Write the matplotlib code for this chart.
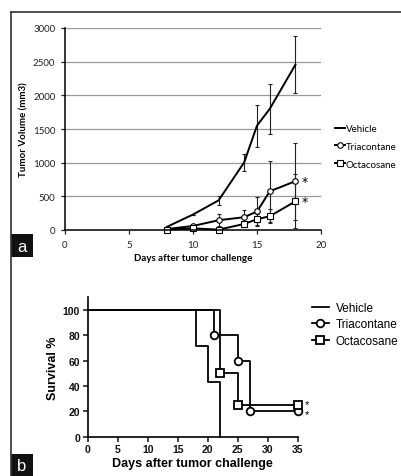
import matplotlib
matplotlib.use('Agg')
from matplotlib import pyplot as plt
from matplotlib.lines import Line2D
from matplotlib.patches import Rectangle

# panel a: tumor volume
days_a = [8, 10, 12, 14, 15, 16, 18]
vehicle_vol = [50, 230, 440, 1005, 1550, 1800, 2455]
vehicle_err = [0, 0, 70, 125, 310, 375, 425]
tria_vol = [15, 60, 145, 190, 275, 575, 725]
tria_err = [0, 20, 90, 110, 210, 450, 570]
octa_vol = [5, 25, 5, 90, 160, 205, 425]
octa_err = [0, 10, 10, 40, 80, 100, 400]
xticks_a = [0, 5, 10, 15, 20]
yticks_a = [0, 500, 1000, 1500, 2000, 2500, 3000]

# panel b: survival
vehicle_t = [0, 18, 20, 22]
vehicle_s = [100, 71.4, 42.9, 0]
tria_t = [0, 21, 25, 27, 35]
tria_s = [100, 80, 60, 20, 20]
octa_t = [0, 22, 25, 35]
octa_s = [100, 50, 25, 25]
xticks_b = [0, 5, 10, 15, 20, 25, 30, 35]
yticks_b = [0, 20, 40, 60, 80, 100]

W, H = 402, 477
fig = plt.figure(figsize=(W / 100, H / 100), dpi=100)
fig.patch.set_facecolor('white')

def fx(px):
    return px / W

def fy(py):
    return 1 - py / H

# ---------- panel a ----------
fa = 'Lato'
axa = fig.add_axes([fx(65), fy(231), fx(321 - 65), (231 - 29) / H])
axa.set_xlim(0, 20)
axa.set_ylim(0, 3000)
axa.set_yticks(yticks_a)
axa.set_xticks(xticks_a)
axa.grid(axis='y', color='#999999', linewidth=0.9)
axa.set_axisbelow(True)
for s in ['top', 'right']:
    axa.spines[s].set_visible(False)
for s in ['left', 'bottom']:
    axa.spines[s].set_linewidth(1.1)
axa.tick_params(length=3, width=0.9, labelsize=7, pad=4, colors='#222222')
for lab in axa.get_xticklabels() + axa.get_yticklabels():
    lab.set_family(fa)
axa.set_xlabel('Days after tumor challenge', fontsize=7, fontweight='bold', family=fa, labelpad=3)
axa.set_ylabel('Tumor Volume (mm3)', fontsize=7, fontweight='bold', family=fa, labelpad=3)

eb = dict(fmt='none', ecolor='#222222', elinewidth=0.8, capsize=1.5, capthick=0.8)
axa.errorbar(days_a, vehicle_vol, yerr=vehicle_err, **eb)
axa.errorbar(days_a, tria_vol, yerr=tria_err, **eb)
axa.errorbar(days_a, octa_vol, yerr=octa_err, **eb)
axa.plot(days_a, vehicle_vol, color='black', lw=1.4, label='Vehicle')
axa.plot(days_a, tria_vol, color='black', lw=1.4, marker='o', ms=4,
         mfc='white', mec='black', mew=0.8, label='Triacontane', clip_on=False)
axa.plot(days_a, octa_vol, color='black', lw=1.4, marker='s', ms=4,
         mfc='white', mec='black', mew=0.8, label='Octacosane', clip_on=False)
axa.text(days_a[-1] + 0.45, tria_vol[-1], '*', fontsize=9, va='center', ha='left')
axa.text(days_a[-1] + 0.45, octa_vol[-1], '*', fontsize=9, va='center', ha='left')

la = axa.legend(loc='upper left', bbox_to_anchor=(fx(335), fy(125)), bbox_transform=fig.transFigure,
                frameon=False, handlelength=1.0, handletextpad=0.1,
                labelspacing=0.9, borderpad=0, borderaxespad=0, prop={'family': fa, 'size': 7})

# ---------- panel b ----------
fb = 'Liberation Sans'
axb = fig.add_axes([fx(87.7), fy(437.7), fx(297.7 - 87.7), 110 * 1.267 / H])
axb.set_xlim(0, 35)
axb.set_ylim(0, 110)
axb.set_xticks(xticks_b)
axb.set_yticks(yticks_b)
for s in ['top', 'right']:
    axb.spines[s].set_visible(False)
for s in ['left', 'bottom']:
    axb.spines[s].set_linewidth(1.2)
axb.tick_params(length=3.5, width=1.1, labelsize=7.5, pad=2, colors='#111111')
for lab in axb.get_xticklabels() + axb.get_yticklabels():
    lab.set_family(fb)
    lab.set_fontweight('bold')
axb.set_xlabel('Days after tumor challenge', fontsize=9, fontweight='bold', family=fb, labelpad=2)
axb.set_ylabel('Survival %', fontsize=9, fontweight='bold', family=fb, labelpad=3)

axb.plot(vehicle_t, vehicle_s, drawstyle='steps-post', color='black', lw=1.3, label='Vehicle', clip_on=False)
axb.plot(tria_t, tria_s, drawstyle='steps-post', color='black', lw=1.3, marker='o', ms=5.5,
         mfc='white', mec='black', mew=1.3, markevery=[1, 2, 3, 4], label='Triacontane', clip_on=False)
axb.plot(octa_t, octa_s, drawstyle='steps-post', color='black', lw=1.3, marker='s', ms=5.5,
         mfc='white', mec='black', mew=1.3, markevery=[1, 2, 3], label='Octacosane', clip_on=False)
axb.text(36.2, octa_s[-1] + 1, '*', fontsize=8, va='center', ha='left', family=fb)
axb.text(36.2, tria_s[-1] - 2, '*', fontsize=8, va='center', ha='left', family=fb)

lb = axb.legend(loc='upper left', bbox_to_anchor=(fx(312), fy(303)), bbox_transform=fig.transFigure,
                frameon=False, handlelength=1.4, handletextpad=0.6, labelspacing=0.38,
                borderpad=0, borderaxespad=0, prop={'family': fb, 'size': 8.5})

# ---------- frame and panel labels ----------
fig.add_artist(Line2D([fx(11), fx(11)], [fy(13), 0], color='#333333', lw=1.2, transform=fig.transFigure))
fig.add_artist(Line2D([fx(11), 1], [fy(13), fy(13)], color='#333333', lw=1.2, transform=fig.transFigure))
for lab, top in [('a', 235), ('b', 455)]:
    fig.add_artist(Rectangle((fx(11), fy(top + 23)), fx(22), 23 / H, facecolor='#111111',
                             edgecolor='none', transform=fig.transFigure))
    fig.text(fx(22), fy(top + 12), lab, color='white', fontsize=12, ha='center', va='center',
             family='Liberation Sans')

fig.savefig('out.png', dpi=100)
